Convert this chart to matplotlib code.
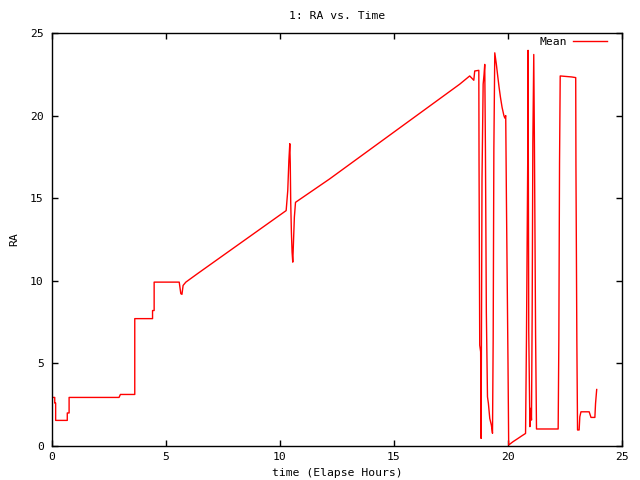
import matplotlib
matplotlib.use("Agg")
import matplotlib.pyplot as plt

# Elapsed time (hours) and RA values
time_hours = [
    0.00, 0.12, 0.12, 0.16, 0.16, 0.67, 0.67, 0.75, 0.75, 2.94, 3.00, 3.63,
    3.63, 4.41, 4.41, 4.48, 4.48, 5.58, 5.65, 5.70, 5.75, 5.87, 6.38, 10.27,
    10.34, 10.39, 10.43, 10.45, 10.47, 10.50, 10.53, 10.56, 10.63, 10.68,
    12.17, 17.88, 18.32, 18.50, 18.54, 18.72, 18.73, 18.76, 18.80, 18.82,
    18.86, 18.91, 18.95, 18.98, 19.01, 19.05, 19.10, 19.14, 19.20, 19.27,
    19.32, 19.35, 19.38, 19.42, 19.49, 19.54, 19.61, 19.67, 19.74, 19.82,
    19.86, 19.90, 19.93, 20.00, 20.03, 20.22, 20.44, 20.59, 20.77, 20.81,
    20.87, 20.88, 20.91, 20.96, 21.00, 21.03, 21.06, 21.09, 21.13, 21.16,
    21.21, 21.25, 22.20, 22.23, 22.26, 22.29, 22.79, 22.97, 22.98, 23.02,
    23.05, 23.12, 23.15, 23.20, 23.56, 23.64, 23.81, 23.84, 23.89,
]
ra_mean = [
    2.94, 2.94, 2.60, 2.60, 1.55, 1.55, 2.00, 2.00, 2.94, 2.94, 3.12, 3.12,
    7.71, 7.71, 8.20, 8.20, 9.92, 9.92, 9.22, 9.18, 9.72, 9.92, 10.43, 14.25,
    15.46, 17.30, 18.30, 17.10, 14.75, 12.94, 11.73, 11.13, 13.85, 14.75,
    16.16, 21.90, 22.40, 22.14, 22.70, 22.74, 17.17, 6.10, 5.70, 0.46,
    16.16, 21.90, 22.50, 23.10, 17.97, 8.10, 2.98, 2.58, 1.67, 1.27,
    0.77, 6.50, 17.98, 23.80, 23.10, 22.50, 21.70, 21.10, 20.50, 20.00,
    19.85, 20.00, 15.06, 5.00, 0.06, 0.26, 0.46, 0.60, 0.76, 6.50,
    18.28, 23.95, 6.90, 1.17, 2.28, 1.57, 8.00, 18.38, 23.70, 18.08,
    6.70, 1.03, 1.03, 6.40, 17.07, 22.40, 22.34, 22.30, 16.97, 6.30,
    0.97, 0.97, 1.77, 2.07, 2.07, 1.73, 1.73, 2.58, 3.42,
]
x_ticks = [0, 5, 10, 15, 20, 25]
y_ticks = [0, 5, 10, 15, 20, 25]

FONT = "DejaVu Sans Mono"
FS = 8.2

fig = plt.figure(figsize=(6.4, 4.8), dpi=100)
ax = fig.add_axes([52 / 640, 1 - 446 / 480, (622 - 52) / 640, (446 - 33) / 480])
ax.plot(time_hours, ra_mean, color="#ff0000", lw=1.0, label="Mean")
ax.set_xlim(0, 25)
ax.set_ylim(0, 25)
ax.set_xticks(x_ticks)
ax.set_yticks(y_ticks)
ax.tick_params(direction="in", length=4, width=1, top=True, right=True,
               labelsize=FS)
ax.tick_params(axis="x", pad=4)
ax.tick_params(axis="y", pad=6)
for lab in ax.get_xticklabels() + ax.get_yticklabels():
    lab.set_family(FONT)
for sp in ax.spines.values():
    sp.set_linewidth(1.0)
ax.set_title("1: RA vs. Time", fontsize=FS, family=FONT, pad=10)
ax.set_xlabel("time (Elapse Hours)", fontsize=FS, family=FONT, labelpad=4.5)
ax.set_ylabel("RA", fontsize=FS, family=FONT, labelpad=8)
leg = ax.legend(loc="upper right", frameon=False, markerfirst=False,
                prop={"family": FONT, "size": FS}, handlelength=3.0,
                borderaxespad=0.0, handletextpad=0.5,
                bbox_to_anchor=(0.982, 1.0017))
fig.savefig("out.png", dpi=100)
